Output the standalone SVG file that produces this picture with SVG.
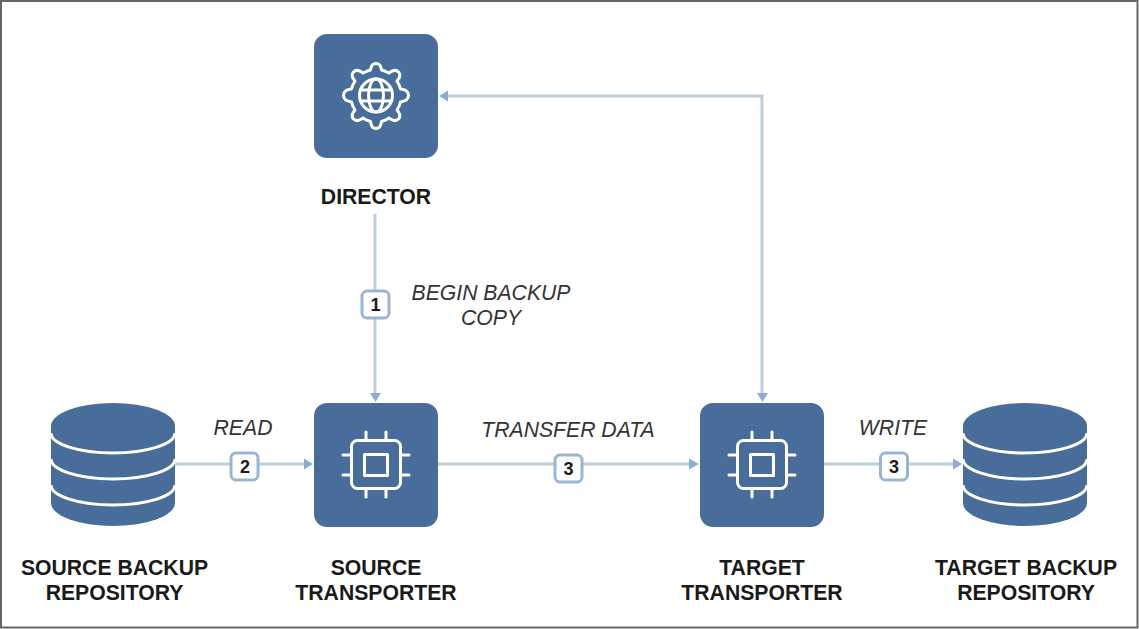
<svg xmlns="http://www.w3.org/2000/svg" width="1139" height="629" viewBox="0 0 1139 629">
<style>
text{font-family:"Liberation Sans",Arial,sans-serif;fill:#1a1a1a;text-anchor:middle}
.n{font-size:21.200px;font-weight:bold}
.l{font-size:21.200px;font-style:italic;fill:#333}
.b{font-size:18px;font-weight:bold}
.box{fill:#486d9b}
.ic{fill:none;stroke:#fff;stroke-width:3;stroke-linecap:round;stroke-linejoin:round}
.db{fill:#486d9b}
.sep{fill:none;stroke:#fff;stroke-width:3}
.c{fill:none;stroke:#bccde0;stroke-width:3}
.ah{fill:#8fadcf}
.badge{fill:#fff;stroke:#9ab5d3;stroke-width:3}
</style>
<defs>
<g id="chip">
<rect x="-24.500" y="-24.500" width="49" height="48" rx="6" class="ic"/>
<rect x="-11.500" y="-10.500" width="23" height="21" class="ic"/>
<path class="ic" d="M-10-25v-8M10-25v-8M-10 24v8M10 24v8M-25-10h-8M-25 10h-8M25-10h8M25 10h8"/>
</g>
<g id="cyl">
<path class="db" d="M0 23A62 23 0 0 1 124 23V100A62 23 0 0 1 0 100Z"/>
<path class="sep" d="M0 30A62 20 0 0 0 124 30M0 56A62 20 0 0 0 124 56M0 82A62 20 0 0 0 124 82"/>
</g>
</defs>
<rect x="1" y="1" width="1136.500" height="626.500" fill="#fff" stroke="#666" stroke-width="2"/>
<g id="connectors">
<path class="c" d="M375 214V394"/>
<path class="ah" d="M370 393H381L375.500 402Z"/>
<path class="c" d="M175 464H306"/>
<path class="ah" d="M304 458.500V469.500L313 464Z"/>
<path class="c" d="M438 464H691"/>
<path class="ah" d="M689 458.500V469.500L699 464Z"/>
<path class="c" d="M824 464H953"/>
<path class="ah" d="M953 458.500V469.500L962 464Z"/>
<path class="c" d="M762 394V96H447"/>
<path class="ah" d="M757 393H768L762.500 402Z"/>
<path class="ah" d="M448 90.500V101.500L439 96Z"/>
</g>
<g id="director">
<rect class="box" x="314" y="34" width="124" height="124" rx="13"/>
<path class="ic" d="M370.500 70C371 65 373 63.500 376 63.500C379 63.500 381 65 381.500 70C386 71 386 72 389 73C394 69 396.500 70 398.500 72C400.500 74 401 76.500 397 81C399 84 399.500 85 400.500 89C405.500 89.500 408.500 91.500 408.500 95.500C408.500 99 406 101 400.500 102C399.500 106 399 107 397 110C401 114.500 400.500 117 398.500 119C396.500 121 394 122 389 118C386 120 385.500 120 381.500 121.500C381 127 379 128.500 376 128.500C373 128.500 371 127 370.500 121.500C366.500 120 366 120 363 118C358 122 355.500 121 353.500 119C351.500 117 351 114.500 355 110C353 107 352.500 106 351.500 102C346 101 343.500 99 343.500 95.500C343.500 91.500 346.500 89.500 351.500 89C352.500 85 353 84 355 81C351 76.500 351.500 74 353.500 72C355.500 70 358 69 363 73C366 72 366 71 370.500 70Z"/>
<circle class="ic" cx="376" cy="95.500" r="16.500"/>
<ellipse class="ic" cx="376" cy="95.500" rx="7.500" ry="16.500"/>
<path class="ic" d="M361 90H391M361 101H391"/>
<text class="n" x="376" y="203.500">DIRECTOR</text>
</g>
<g id="source-repo">
<use href="#cyl" x="51" y="403"/>
<text class="n" x="114.500" y="574.500">SOURCE BACKUP</text>
<text class="n" x="114.500" y="599.500">REPOSITORY</text>
</g>
<g id="source-transporter">
<rect class="box" x="314" y="403" width="124" height="124" rx="13"/>
<use href="#chip" x="376" y="465"/>
<text class="n" x="376" y="574.500">SOURCE</text>
<text class="n" x="376" y="599.500">TRANSPORTER</text>
</g>
<g id="target-transporter">
<rect class="box" x="700" y="403" width="124" height="124" rx="13"/>
<use href="#chip" x="762" y="465"/>
<text class="n" x="762" y="574.500">TARGET</text>
<text class="n" x="762" y="599.500">TRANSPORTER</text>
</g>
<g id="target-repo">
<use href="#cyl" x="963" y="403"/>
<text class="n" x="1026" y="574.500">TARGET BACKUP</text>
<text class="n" x="1026" y="599.500">REPOSITORY</text>
</g>
<g id="labels">
<rect class="badge" x="362" y="291" width="27" height="27" rx="5"/>
<text class="b" x="375.500" y="311">1</text>
<rect class="badge" x="231" y="453" width="27" height="27" rx="5"/>
<text class="b" x="245" y="473">2</text>
<rect class="badge" x="555" y="455" width="27" height="27" rx="5"/>
<text class="b" x="568.500" y="475">3</text>
<rect class="badge" x="880.500" y="453" width="27" height="27" rx="5"/>
<text class="b" x="894" y="473">3</text>
<text class="l" x="491" y="300">BEGIN BACKUP</text>
<text class="l" x="491" y="325">COPY</text>
<text class="l" x="243" y="435">READ</text>
<text class="l" x="568" y="437">TRANSFER DATA</text>
<text class="l" x="893" y="435">WRITE</text>
</g>
</svg>
